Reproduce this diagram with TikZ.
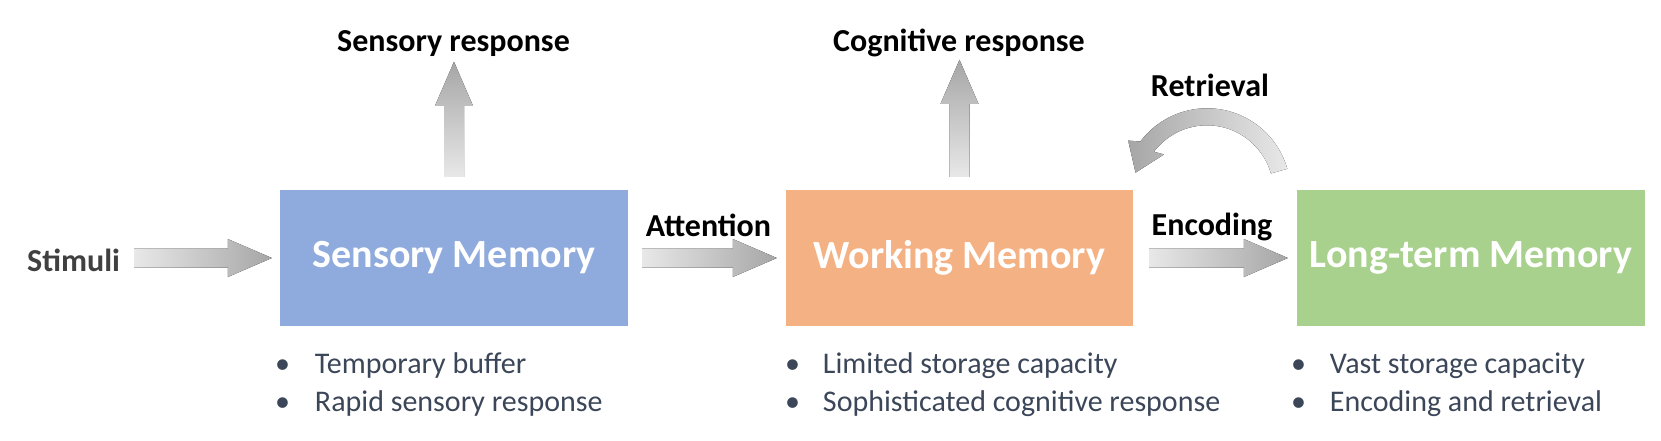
\documentclass[tikz,border=0pt]{standalone}
\usepackage{fontspec}
\setmainfont{Carlito}
\usetikzlibrary{calc}
\definecolor{smblue}{HTML}{8FAADC}
\definecolor{wmorange}{HTML}{F4B183}
\definecolor{ltgreen}{HTML}{A9D18E}
\definecolor{bullettext}{HTML}{3B4658}
\definecolor{stimgray}{HTML}{404040}
\definecolor{arrowlight}{HTML}{E8E8E8}
\definecolor{arrowdark}{HTML}{A6A6A6}
\newcommand\harrowfill[2]{%
  \fill[left color=arrowlight,right color=arrowdark] let \p1=(#1),\p2=(#2) in
  (\x1,\y1+9.5pt) -- (\x2-44pt,\y1+9.5pt) -- (\x2-44pt,\y1+19pt) -- (\x2,\y1)
  -- (\x2-44pt,\y1-19pt) -- (\x2-44pt,\y1-9.5pt) -- (\x1,\y1-9.5pt) -- cycle;}
\newcommand\varrowfill[2]{%
  \fill[bottom color=arrowlight,top color=arrowdark] let \p1=(#1),\p2=(#2) in
  (\x1-10pt,\y1) -- (\x1-10pt,\y2-44pt) -- (\x1-19pt,\y2-44pt) -- (\x1,\y2)
  -- (\x1+19pt,\y2-44pt) -- (\x1+10pt,\y2-44pt) -- (\x1+10pt,\y1) -- cycle;}
\begin{document}
\begin{tikzpicture}[x=1pt,y=-1pt,
  membox/.style={minimum width=348pt,minimum height=136pt,inner sep=0pt,
    text=white,font=\fontsize{40}{48}\selectfont\bfseries},
  lbl/.style={inner sep=0pt,anchor=base,font=\fontsize{32}{38}\selectfont\bfseries},
  bul/.style={inner sep=0pt,anchor=base west,text=bullettext,
    font=\fontsize{30}{38}\selectfont}]
\useasboundingbox (0,0) rectangle (1661,441);
% boxes
\node[membox,fill=smblue] (sm) at (454,258) {Sensory Memory};
\node[membox,fill=wmorange,minimum width=347pt] (wm) at (959.5,258) {Working Memory};
\node[membox,fill=ltgreen] (ltm) at (1471,258) {Long-term Memory};
% labels
\node[lbl,anchor=base west,text=stimgray] (stim) at (27,271) {Stimuli};
\node[lbl] (att) at (708.5,236) {Attention};
\node[lbl] (enc) at (1212,235) {Encoding};
\node[lbl] (sr) at (453.5,52) {Sensory response};
\node[lbl] (cr) at (959,52) {Cognitive response};
\node[lbl] (ret) at (1210,97) {Retrieval};
% connector coordinates
\coordinate (s1) at ($(sm.west -| stim.east)+(14,0)$);
\coordinate (s2) at ($(sm.west)+(-8,0)$);
\coordinate (a1) at ($(sm.east)+(14,0)$);
\coordinate (a2) at ($(wm.west)+(-9,0)$);
\coordinate (e1) at ($(wm.east)+(16,0)$);
\coordinate (e2) at ($(ltm.west)+(-9,0)$);
\coordinate (v1) at ($(sm.north)+(0,-13)$);
\coordinate (v2) at ($(sm.north)+(0,-128)$);
\coordinate (w1) at ($(wm.north)+(0,-13)$);
\coordinate (w2) at ($(wm.north)+(0,-130)$);
\coordinate (C) at ($(wm.north east)!0.5!(ltm.north west)+(-8,2)$);
% arrows
\harrowfill{s1}{s2}
\harrowfill{a1}{a2}
\harrowfill{e1}{e2}
\varrowfill{v1}{v2}
\varrowfill{w1}{w2}
\fill[left color=arrowdark,right color=arrowlight]
  ($(C)+(16:83.5pt)$) arc[start angle=16,end angle=143,radius=83.5pt]
  -- ($(C)+(147:94pt)$) -- ($(C)+(165:74pt)$) -- ($(C)+(139:57pt)$)
  -- ($(C)+(143:66.5pt)$) arc[start angle=143,end angle=16,radius=66.5pt] -- cycle;
% bullets
\node[bul] (b1) at ($(sm.south west)+(-5,47)$) {\makebox[40pt][l]{\textbullet}Temporary buffer};
\node[bul] (b2) at ($(sm.south west)+(-5,85)$) {\makebox[40pt][l]{\textbullet}Rapid sensory response};
\node[bul] (b3) at ($(wm.south west)+(-1,47)$) {\makebox[38pt][l]{\textbullet}Limited storage capacity};
\node[bul] (b4) at ($(wm.south west)+(-1,85)$) {\makebox[38pt][l]{\textbullet}Sophisticated cognitive response};
\node[bul] (b5) at ($(ltm.south west)+(-6,47)$) {\makebox[39pt][l]{\textbullet}Vast storage capacity};
\node[bul] (b6) at ($(ltm.south west)+(-6,85)$) {\makebox[39pt][l]{\textbullet}Encoding and retrieval};
\end{tikzpicture}
\end{document}
